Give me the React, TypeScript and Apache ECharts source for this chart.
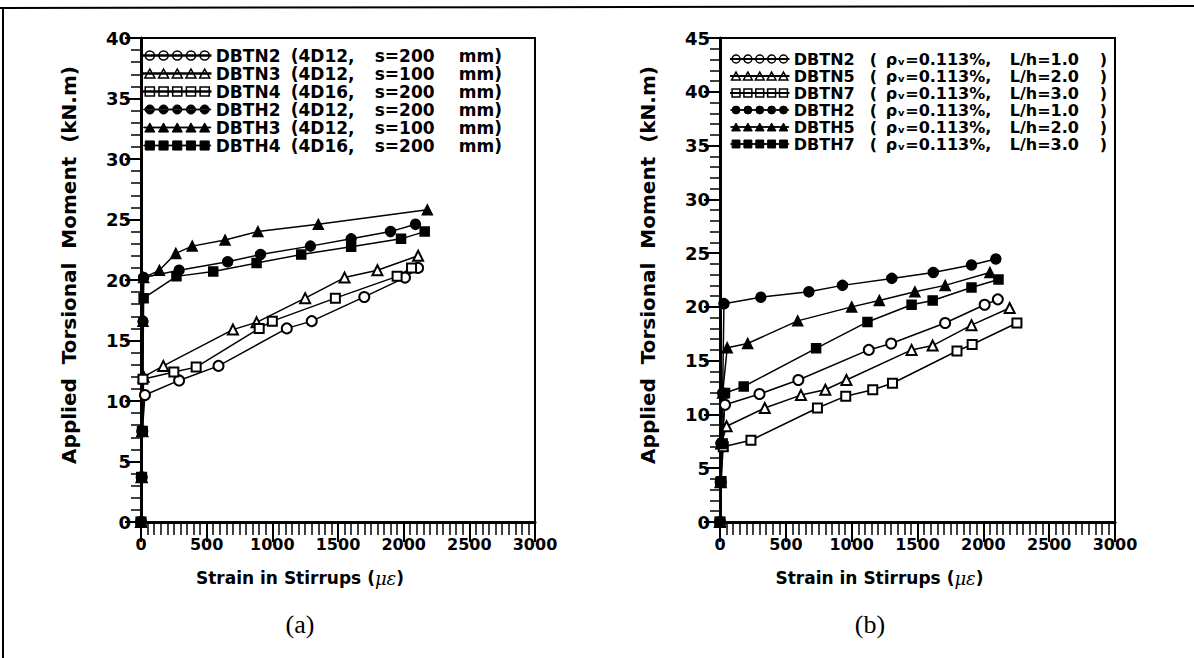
import React, { useEffect, useRef } from "react";
import * as echarts from "echarts";

// ---------- data ----------
const xTickValues = [0, 500, 1000, 1500, 2000, 2500, 3000];

// (a) left panel
const leftNames = ["DBTN2", "DBTN3", "DBTN4", "DBTH2", "DBTH3", "DBTH4"];
const leftBars = ["4D12", "4D12", "4D16", "4D12", "4D12", "4D16"];
const leftSpacing = [200, 100, 200, 200, 100, 200];

const dbtn2a = [[0, 0], [5, 3.7], [10, 7.5], [30, 10.5], [290, 11.7], [590, 12.9], [1110, 16.0], [1300, 16.6], [1700, 18.6], [2010, 20.2], [2110, 21.0]];
const dbtn3a = [[0, 0], [5, 3.7], [10, 7.5], [20, 12.0], [170, 12.9], [700, 15.9], [880, 16.5], [1250, 18.5], [1550, 20.2], [1800, 20.8], [2110, 22.0]];
const dbtn4a = [[0, 0], [5, 3.7], [10, 7.5], [15, 11.8], [250, 12.4], [420, 12.8], [900, 16.0], [1000, 16.6], [1480, 18.5], [1950, 20.3], [2060, 21.0]];
const dbth2a = [[0, 0], [5, 3.7], [10, 7.5], [15, 16.6], [20, 20.2], [290, 20.8], [660, 21.5], [910, 22.1], [1290, 22.8], [1600, 23.4], [1900, 24.0], [2090, 24.6]];
const dbth3a = [[0, 0], [5, 3.7], [10, 7.5], [15, 16.6], [20, 20.2], [140, 20.8], [265, 22.2], [390, 22.8], [640, 23.3], [890, 24.0], [1350, 24.6], [2180, 25.8]];
const dbth4a = [[0, 0], [5, 3.7], [10, 7.5], [20, 18.5], [270, 20.3], [550, 20.7], [880, 21.4], [1220, 22.1], [1600, 22.75], [1980, 23.4], [2160, 24.0]];

// (b) right panel
const rightNames = ["DBTN2", "DBTN5", "DBTN7", "DBTH2", "DBTH5", "DBTH7"];
const rightRho = ["0.113", "0.113", "0.113", "0.113", "0.113", "0.113"];
const rightLh = ["1.0", "2.0", "3.0", "1.0", "2.0", "3.0"];

const dbtn2b = [[0, 0], [5, 3.7], [10, 7.3], [38, 10.9], [300, 11.9], [595, 13.2], [1130, 16.0], [1300, 16.6], [1710, 18.5], [2010, 20.2], [2110, 20.7]];
const dbtn5b = [[0, 0], [5, 3.7], [10, 7.3], [50, 8.9], [340, 10.6], [615, 11.8], [800, 12.3], [960, 13.2], [1455, 16.0], [1615, 16.4], [1910, 18.3], [2200, 19.9]];
const dbtn7b = [[0, 0], [5, 3.7], [25, 7.0], [235, 7.6], [740, 10.6], [955, 11.7], [1160, 12.3], [1310, 12.9], [1800, 15.9], [1915, 16.5], [2255, 18.5]];
const dbth2b = [[0, 0], [5, 3.7], [10, 7.3], [20, 12.0], [30, 20.3], [310, 20.9], [675, 21.4], [930, 22.0], [1305, 22.65], [1620, 23.2], [1910, 23.9], [2095, 24.45]];
const dbth5b = [[0, 0], [5, 3.7], [10, 7.3], [20, 12.0], [55, 16.2], [210, 16.6], [590, 18.7], [1000, 20.0], [1210, 20.6], [1480, 21.4], [1710, 22.0], [2050, 23.2]];
const dbth7b = [[0, 0], [10, 3.8], [20, 7.3], [38, 12.0], [180, 12.6], [730, 16.15], [1120, 18.6], [1455, 20.2], [1615, 20.6], [1910, 21.8], [2115, 22.55]];

const leftData = [dbtn2a, dbtn3a, dbtn4a, dbth2a, dbth3a, dbth4a];
const rightData = [dbtn2b, dbtn5b, dbtn7b, dbth2b, dbth5b, dbth7b];
const markerKinds = ["circle", "triangle", "rect", "circle", "triangle", "rect"];
const markerFilled = [false, false, false, true, true, true];

// ---------- helpers ----------
const FONT = "DejaVu Sans";

function iconPath(kind: string): string {
  const centers = [6, 19.5, 33, 46.5, 60];
  let d = "M0,4.6 H66 V5.4 H0 Z ";
  for (const cx of centers) {
    if (kind === "circle") {
      d += `M${cx - 4.5},5 A4.5,4.5 0 1,0 ${cx + 4.5},5 A4.5,4.5 0 1,0 ${cx - 4.5},5 Z `;
    } else if (kind === "triangle") {
      d += `M${cx - 5},9.5 L${cx},0.5 L${cx + 5},9.5 Z `;
    } else {
      d += `M${cx - 4.5},0.5 H${cx + 4.5} V9.5 H${cx - 4.5} Z `;
    }
  }
  return "path://" + d;
}

function symbolName(i: number): string {
  return (markerFilled[i] ? "" : "empty") + markerKinds[i];
}

function makeAxisX(gridIndex: number) {
  return {
    type: "value",
    gridIndex,
    min: xTickValues[0],
    max: xTickValues[xTickValues.length - 1],
    interval: xTickValues[1] - xTickValues[0],
    axisLine: { show: true, onZero: false, lineStyle: { color: "#000", width: 3 } },
    axisTick: { show: true, length: 20, lineStyle: { color: "#000", width: 2 } },
    minorTick: { show: true, splitNumber: 10, length: 13, lineStyle: { color: "#000", width: 1.5 } },
    splitLine: { show: false },
    axisLabel: {
      color: "#000",
      fontSize: 16,
      fontWeight: "bold",
      fontFamily: FONT,
      margin: 14,
      formatter: (v: number) => String(v),
    },
    name: "{t|Strain in Stirrups (}{i|με}{t|)}",
    nameLocation: "middle",
    nameGap: 47,
    nameTextStyle: {
      padding: [0, 76, 0, 0],
      rich: {
        t: { fontSize: 17, fontWeight: "bold", fontFamily: FONT, color: "#000" },
        i: { fontSize: 18, fontStyle: "italic", fontFamily: "DejaVu Serif", color: "#000" },
      },
    },
  };
}

function makeAxisY(gridIndex: number, max: number) {
  return {
    type: "value",
    gridIndex,
    min: 0,
    max,
    interval: 5,
    axisLine: { show: true, onZero: false, lineStyle: { color: "#000", width: 3 } },
    axisTick: { show: true, length: 16, lineStyle: { color: "#000", width: 2 } },
    minorTick: { show: true, splitNumber: 5, length: 10, lineStyle: { color: "#000", width: 1.5 } },
    splitLine: { show: false },
    minorSplitLine: { show: false },
    axisLabel: { color: "#000", fontSize: 18, fontWeight: "bold", fontFamily: FONT, margin: 10 },
    name: "Applied  Torsional  Moment  (kN.m)",
    nameLocation: "middle",
    nameGap: 62,
    nameTextStyle: { color: "#000", fontSize: 20, fontWeight: "bold", fontFamily: FONT, padding: [0, 0, 0, 30] },
  };
}

function makeSeries(prefix: string, names: string[], data: number[][][], axisIndex: number) {
  return names.map((n, i) => ({
    type: "line",
    name: prefix + n,
    xAxisIndex: axisIndex,
    yAxisIndex: axisIndex,
    data: data[i],
    symbol: symbolName(i),
    symbolSize: markerKinds[i] === "rect" ? 9 : 10,
    showSymbol: true,
    lineStyle: { color: "#000", width: 1.5 },
    itemStyle: { color: "#000", borderColor: "#000", borderWidth: 1.5 },
    emphasis: { disabled: true },
  }));
}

function legendData(prefix: string, names: string[]) {
  return names.map((n, i) => ({
    name: prefix + n,
    icon: iconPath(markerKinds[i]),
    itemStyle: markerFilled[i]
      ? { color: "#000", borderColor: "#000", borderWidth: 1 }
      : { color: "#fff", borderColor: "#000", borderWidth: 1.5 },
  }));
}

export default function App() {
  const ref = useRef<HTMLDivElement>(null);

  useEffect(() => {
    if (!ref.current) return;
    const chart = echarts.init(ref.current, undefined, { renderer: "svg" });

    const lt = (w?: number) => ({ fontSize: 17, fontWeight: "bold", fontFamily: FONT, color: "#000", lineHeight: 17, ...(w ? { width: w } : {}) });
    const rt = (w?: number) => ({ fontSize: 16, fontWeight: "bold", fontFamily: FONT, color: "#000", lineHeight: 16, ...(w ? { width: w } : {}) });

    const option = {
      animation: false,
      backgroundColor: "#fff",
      grid: [
        { left: 141, top: 38, width: 394, height: 484, show: true, borderColor: "#000", borderWidth: 2, backgroundColor: "transparent" },
        { left: 720, top: 38, width: 395, height: 484, show: true, borderColor: "#000", borderWidth: 2, backgroundColor: "transparent" },
      ],
      xAxis: [makeAxisX(0), makeAxisX(1)],
      yAxis: [makeAxisY(0, 40), makeAxisY(1, 45)],
      legend: [
        {
          orient: "vertical",
          left: 143,
          top: 47,
          itemWidth: 67,
          itemHeight: 10,
          itemGap: 1,
          padding: 0,
          selectedMode: false,
          data: legendData("a:", leftNames),
          formatter: (name: string) => {
            const i = leftNames.indexOf(name.slice(2));
            return `{n|${leftNames[i]}}{b|(${leftBars[i]},}{c|s=${leftSpacing[i]}}{d|mm)}`;
          },
          textStyle: {
            color: "#000",
            fontFamily: FONT,
            fontSize: 17,
            lineHeight: 17,
            rich: { n: lt(75), b: lt(84), c: lt(84), d: lt() },
          },
        },
        {
          orient: "vertical",
          left: 730,
          top: 51,
          itemWidth: 58,
          itemHeight: 9,
          itemGap: 1,
          padding: 0,
          selectedMode: false,
          data: legendData("b:", rightNames),
          formatter: (name: string) => {
            const i = rightNames.indexOf(name.slice(2));
            return `{n|${rightNames[i]}}{p|(}{q|ρᵥ=${rightRho[i]}%,}{r|L/h=${rightLh[i]}}{p|)}`;
          },
          textStyle: {
            color: "#000",
            fontFamily: FONT,
            fontSize: 16,
            lineHeight: 16,
            rich: { n: rt(76), p: rt(16), q: rt(124), r: rt(90) },
          },
        },
      ],
      series: [...makeSeries("a:", leftNames, leftData, 0), ...makeSeries("b:", rightNames, rightData, 1)],
      graphic: [
        { type: "line", shape: { x1: 0, y1: 8, x2: 1194, y2: 6 }, style: { stroke: "#000", lineWidth: 2 } },
        { type: "line", shape: { x1: 3, y1: 8, x2: 3, y2: 658 }, style: { stroke: "#000", lineWidth: 2 } },
        {
          type: "text",
          x: 300,
          y: 624,
          style: { text: "(a)", font: "26px 'Liberation Serif'", fill: "#000", textAlign: "center", textVerticalAlign: "middle" },
        },
        {
          type: "text",
          x: 870,
          y: 624,
          style: { text: "(b)", font: "26px 'Liberation Serif'", fill: "#000", textAlign: "center", textVerticalAlign: "middle" },
        },
      ],
    };

    chart.setOption(option as any);
    return () => chart.dispose();
  }, []);

  return <div ref={ref} style={{ position: "absolute", left: 0, top: 0, width: 1194, height: 658 }} />;
}
